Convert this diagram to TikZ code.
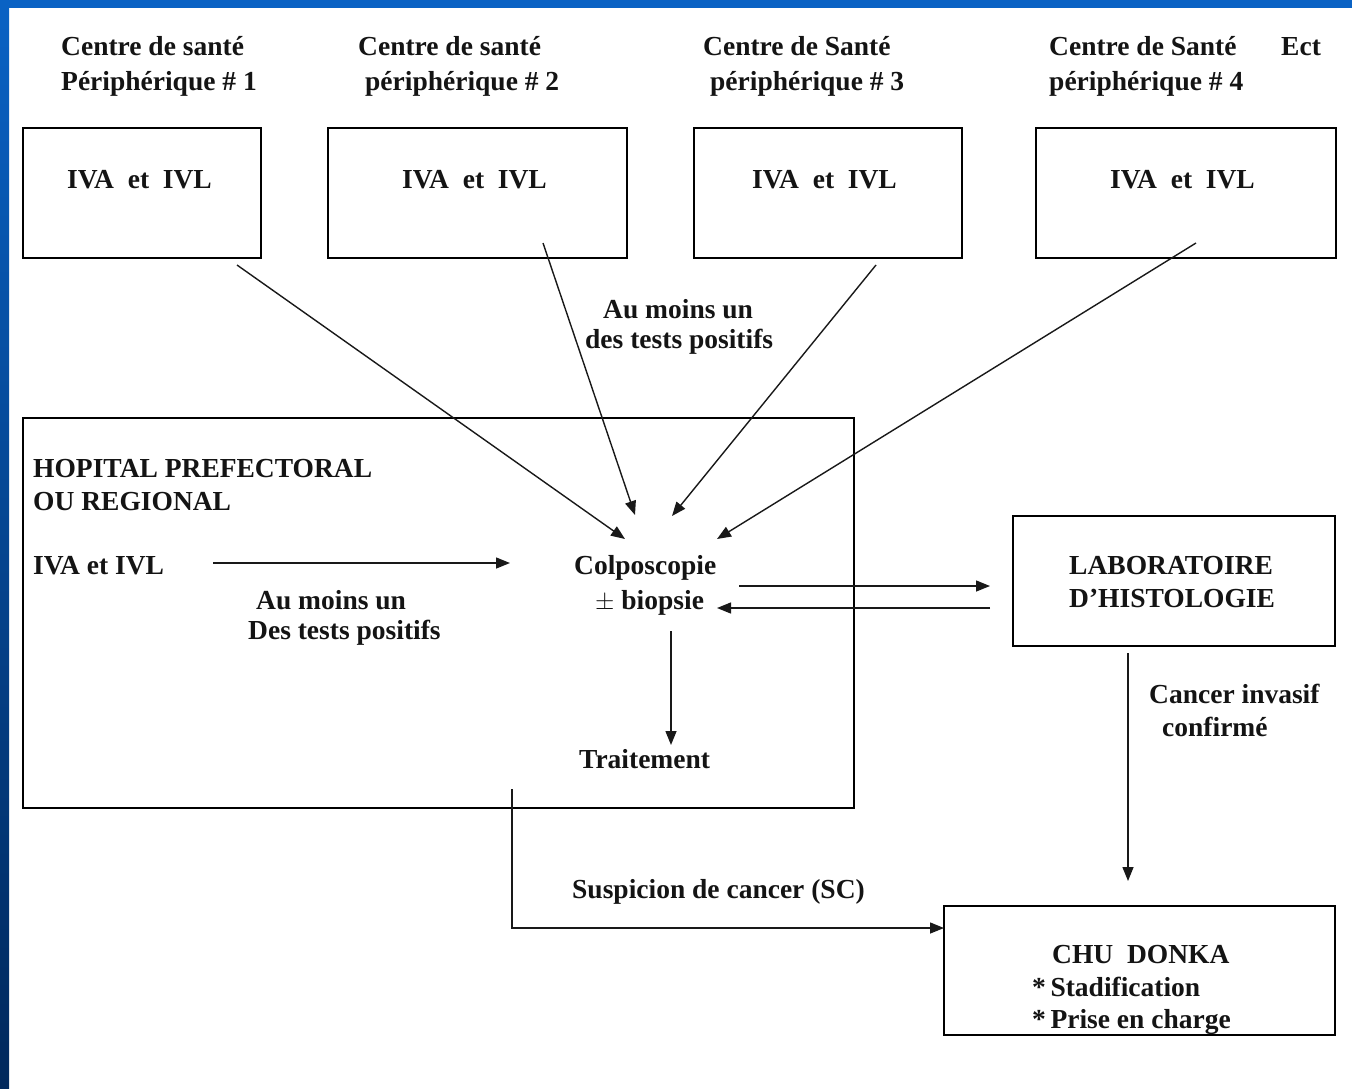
\documentclass[tikz,border=0pt]{standalone}
\usepackage{fontspec}
\setmainfont{Liberation Serif}
\usetikzlibrary{arrows.meta}
\definecolor{slideblue}{HTML}{0A62C4}
\definecolor{slidedark}{HTML}{00285C}
\definecolor{txt}{HTML}{141414}
\tikzset{
  box/.style={draw=black, line width=2.2pt, inner sep=0pt, outer sep=0pt, anchor=north west},
  lbl/.style={font=\bfseries\fontsize{27.5}{33}\selectfont, text=txt, inner sep=0pt, anchor=base west},
  arr/.style={-{Triangle[length=14pt,width=11pt]}, line width=1.4pt, draw=black!90},
}
\begin{document}
\begin{tikzpicture}[x=1pt,y=-1pt]
\useasboundingbox (0,0) rectangle (1352,1088);
\fill[white] (0,0) rectangle (1352,1088);
% slide frame
\shade[top color=slideblue, bottom color=slidedark] (0,0) rectangle (9,1088);
\fill[slideblue] (0,0) rectangle (1352,8);

% top boxes
\node[box, minimum width=238pt, minimum height=130pt] (b1) at (23,128) {};
\node[box, minimum width=299pt, minimum height=130pt] (b2) at (328,128) {};
\node[box, minimum width=268pt, minimum height=130pt] (b3) at (694,128) {};
\node[box, minimum width=300pt, minimum height=130pt] (b4) at (1036,128) {};

% top labels
\node[lbl] (t1a) at (61,55) {Centre de santé};
\node[lbl] (t1b) at (61,90) {Périphérique \# 1};
\node[lbl] (t2a) at (358,55) {Centre de santé};
\node[lbl] (t2b) at (365,90) {périphérique \# 2};
\node[lbl] (t3a) at (703,55) {Centre de Santé};
\node[lbl] (t3b) at (710,90) {périphérique \# 3};
\node[lbl] (t4a) at (1049,55) {Centre de Santé};
\node[lbl] (t4c) at (1281,55) {Ect};
\node[lbl] (t4b) at (1049,90) {périphérique \# 4};

% box contents
\node[lbl] (i1) at (67,188) {IVA\ \ et\ \ IVL};
\node[lbl] (i2) at (402,188) {IVA\ \ et\ \ IVL};
\node[lbl] (i3) at (752,188) {IVA\ \ et\ \ IVL};
\node[lbl] (i4) at (1110,188) {IVA\ \ et\ \ IVL};

% middle label
\node[lbl] (m1) at (603,318) {Au moins un};
\node[lbl] (m2) at (585,348) {des tests positifs};

% hospital box
\node[box, minimum width=831pt, minimum height=390pt] (hop) at (23,418) {};
\node[lbl] (h1) at (33,477) {HOPITAL PREFECTORAL};
\node[lbl] (h2) at (33,510) {OU REGIONAL};
\node[lbl] (h3) at (33,574) {IVA et IVL};
\node[lbl] (h4) at (256,609) {Au moins un};
\node[lbl] (h5) at (248,639) {Des tests positifs};
\node[lbl] (col) at (574,574) {Colposcopie};
\node[lbl] (bio) at (595,609) {$\pm$ biopsie};
\node[lbl] (tra) at (579,768) {Traitement};

% laboratory
\node[box, minimum width=322pt, minimum height=130pt] (lab) at (1013,516) {};
\node[lbl] (l1) at (1069,574) {LABORATOIRE};
\node[lbl] (l2) at (1069,607) {D’HISTOLOGIE};
\node[lbl] (c1) at (1149,703) {Cancer invasif};
\node[lbl] (c2) at (1162,736) {confirmé};

% CHU
\node[box, minimum width=391pt, minimum height=129pt] (chu) at (944,906) {};
\node[lbl] (d1) at (1052,963) {CHU\ \ DONKA};
\node[lbl] (d2) at (1032,996) {*\,Stadification};
\node[lbl] (d3) at (1032,1028) {*\,Prise en charge};
\node[lbl] (sc) at (572,898) {Suspicion de cancer (SC)};

% connector end points
\coordinate (a1s) at (237,265); \coordinate (a1e) at (625,539);
\coordinate (a2s) at (543,243); \coordinate (a2e) at (635,515);
\coordinate (a3s) at (876,265); \coordinate (a3e) at (672,516);
\coordinate (a4s) at (1196,243); \coordinate (a4e) at (717,539);
\coordinate (hs) at (213,563); \coordinate (he) at (510,563);
\coordinate (ds) at (671,631); \coordinate (de) at (671,745);
\coordinate (rs) at (739,586); \coordinate (re) at (990,586);
\coordinate (ls) at (990,608); \coordinate (le) at (717,608);
\coordinate (vs) at (1128,653); \coordinate (ve) at (1128,881);
\coordinate (ss) at (512,789); \coordinate (se) at (944,928);

% connectors
\draw[arr] (a1s) -- (a1e);
\draw[arr] (a2s) -- (a2e);
\draw[arr] (a3s) -- (a3e);
\draw[arr] (a4s) -- (a4e);
\draw[arr] (hs) -- (he);
\draw[arr] (ds) -- (de);
\draw[arr] (rs) -- (re);
\draw[arr] (ls) -- (le);
\draw[arr] (vs) -- (ve);
\draw[arr] (ss) |- (se);
\end{tikzpicture}
\end{document}
